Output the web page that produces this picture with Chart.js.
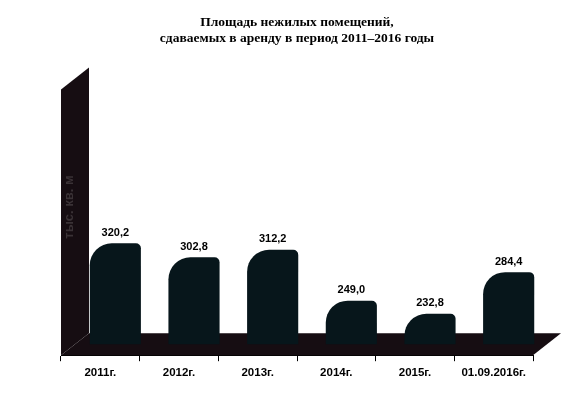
<!DOCTYPE html>
<html>
<head>
<meta charset="utf-8">
<script src="https://cdn.jsdelivr.net/npm/chart.js@4"></script>
<style>
  html, body { margin: 0; padding: 0; background: #fff; }
  #wrap { width: 588px; height: 398px; }
</style>
</head>
<body>
<div id="wrap"><canvas id="chart"></canvas></div>
<script>
const categories = ['2011г.', '2012г.', '2013г.', '2014г.', '2015г.', '01.09.2016г.'];
const areaValues = [320.2, 302.8, 312.2, 249.0, 232.8, 284.4];
const titleLines = ['Площадь нежилых помещений,', 'сдаваемых в аренду в период 2011–2016 годы'];
const unitLabel = 'тыс. кв. м';

// depth of the fake 3D box
const DEPTH_X = 28, DEPTH_Y = 22;
const BAR_SHIFT_X = 15, BAR_SHIFT_Y = -11;

const boxPlugin = {
    id: 'box3d',
    beforeDatasetsDraw(chart) {
        const {ctx, chartArea: a} = chart;
        ctx.save();
        ctx.fillStyle = '#160d12';
        // back wall
        ctx.beginPath();
        ctx.moveTo(a.left, a.bottom);
        ctx.lineTo(a.left, a.top + DEPTH_Y);
        ctx.lineTo(a.left + DEPTH_X, a.top);
        ctx.lineTo(a.left + DEPTH_X, a.bottom - DEPTH_Y);
        ctx.closePath();
        ctx.fill();
        // floor
        ctx.beginPath();
        ctx.moveTo(a.left, a.bottom);
        ctx.lineTo(a.right, a.bottom);
        ctx.lineTo(a.right + DEPTH_X, a.bottom - DEPTH_Y);
        ctx.lineTo(a.left + DEPTH_X, a.bottom - DEPTH_Y);
        ctx.closePath();
        ctx.fill();
        // unit label on the wall
        ctx.translate(a.left + 8, 207);
        ctx.rotate(-Math.PI / 2);
        ctx.fillStyle = '#3a3236';
        ctx.font = 'bold 13px "Liberation Sans", Arial, sans-serif';
        ctx.textAlign = 'center';
        ctx.textBaseline = 'middle';
        ctx.fillText(unitLabel, 0, 0);
        ctx.restore();

        ctx.save();
        ctx.translate(BAR_SHIFT_X, BAR_SHIFT_Y);
    },
    afterDatasetsDraw(chart) {
        const {ctx, data} = chart;
        // value labels, still in the shifted frame
        ctx.textAlign = 'center';
        ctx.textBaseline = 'bottom';
        ctx.font = 'bold 11px "Liberation Sans", Arial, sans-serif';
        ctx.fillStyle = '#000';
        chart.getDatasetMeta(0).data.forEach((bar, i) => {
            const v = data.datasets[0].data[i];
            ctx.fillText(v.toFixed(1).replace('.', ','), bar.x, bar.y - 5);
        });
        ctx.restore();
    }
};

new Chart(document.getElementById('chart'), {
    type: 'bar',
    data: {
        labels: categories,
        datasets: [{
            data: areaValues,
            backgroundColor: '#07161b',
            borderWidth: 0,
            borderSkipped: 'bottom',
            borderRadius: {topLeft: 22, topRight: 5, bottomLeft: 0, bottomRight: 0},
            categoryPercentage: 1,
            barPercentage: 0.65
        }]
    },
    options: {
        responsive: true,
        maintainAspectRatio: false,
        animation: false,
        layout: { padding: { left: 61, right: 55, top: 4, bottom: 13 } },
        plugins: {
            legend: { display: false },
            tooltip: { enabled: false },
            title: {
                display: true,
                text: titleLines,
                color: '#000',
                font: { family: '"Liberation Serif", "Times New Roman", serif', size: 13.5, weight: 'bold', lineHeight: 1.2 },
                padding: { top: 10, bottom: 21 }
            }
        },
        scales: {
            x: {
                offset: true,
                grid: { display: true, offset: true, drawOnChartArea: false, drawTicks: true, tickLength: 6, color: '#000', lineWidth: 1 },
                border: { display: true, color: '#000', width: 1 },
                ticks: { color: '#000', padding: 5, font: { family: '"Liberation Sans", Arial, sans-serif', size: 11.5, weight: 'bold' } }
            },
            y: {
                display: false,
                min: 195,
                max: 552
            }
        }
    },
    plugins: [boxPlugin]
});
</script>
</body>
</html>
